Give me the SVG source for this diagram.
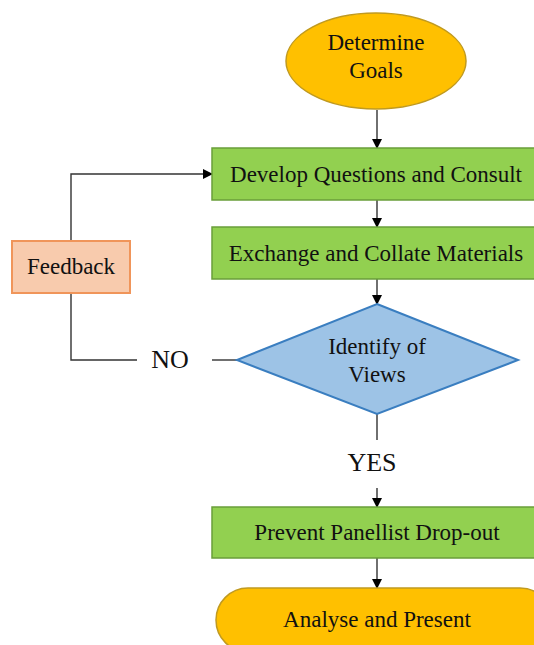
<svg xmlns="http://www.w3.org/2000/svg" width="534" height="645" viewBox="0 0 534 645">
<defs>
<marker id="arr" markerWidth="10" markerHeight="10" refX="9" refY="5" orient="auto" markerUnits="userSpaceOnUse">
<path d="M0,0 L10,5 L0,10 Z" fill="#000"/>
</marker>
<style>
.t{font-family:"Liberation Serif","Times New Roman",serif;font-size:23px;fill:#111;text-anchor:middle}
.lbl{font-size:26px}
.term{fill:#FFC000;stroke:#C09A20;stroke-width:1.5}
.proc{fill:#92D050;stroke:#6A9E3A;stroke-width:1.5}
.dec{fill:#9DC3E6;stroke:#3A7EC0;stroke-width:2}
.fb{fill:#F8CBAD;stroke:#F0955A;stroke-width:2}
.c{fill:none;stroke:#333;stroke-width:1.4}
</style>
</defs>
<rect width="534" height="645" fill="#fff"/>
<g id="connectors">
<line class="c" x1="377" y1="110" x2="377" y2="148" marker-end="url(#arr)"/>
<line class="c" x1="377" y1="200" x2="377" y2="227" marker-end="url(#arr)"/>
<line class="c" x1="377" y1="279" x2="377" y2="304" marker-end="url(#arr)"/>
<line class="c" x1="377" y1="414" x2="377" y2="440"/>
<line class="c" x1="377" y1="488" x2="377" y2="507" marker-end="url(#arr)"/>
<line class="c" x1="377" y1="558" x2="377" y2="588" marker-end="url(#arr)"/>
<polyline class="c" points="71,241 71,174 212,174" marker-end="url(#arr)"/>
<polyline class="c" points="71,293 71,360 137,360"/>
<line class="c" x1="212" y1="360" x2="237" y2="360"/>
<text class="t lbl" x="170" y="368">NO</text>
<text class="t lbl" x="372" y="471">YES</text>
</g>
<g id="determine-goals">
<ellipse class="term" cx="376" cy="61" rx="90" ry="48"/>
<text class="t" x="376" y="50">Determine</text>
<text class="t" x="376" y="78">Goals</text>
</g>
<g id="develop-questions">
<rect class="proc" x="212" y="148" width="330" height="52"/>
<text class="t" x="376" y="182">Develop Questions and Consult</text>
</g>
<g id="exchange-materials">
<rect class="proc" x="212" y="227" width="330" height="52"/>
<text class="t" x="376" y="261">Exchange and Collate Materials</text>
</g>
<g id="feedback">
<rect class="fb" x="12" y="241" width="118" height="52"/>
<text class="t" x="71" y="274">Feedback</text>
</g>
<g id="identify-views">
<polygon class="dec" points="377,304 518,360 377,414 237,360"/>
<text class="t" x="377" y="354">Identify of</text>
<text class="t" x="377" y="382">Views</text>
</g>
<g id="prevent-dropout">
<rect class="proc" x="212" y="507" width="330" height="51"/>
<text class="t" x="377" y="540">Prevent Panellist Drop-out</text>
</g>
<g id="analyse-present">
<rect class="term" x="216" y="588" width="336" height="64" rx="32"/>
<text class="t" x="377" y="627">Analyse and Present</text>
</g>
</svg>
